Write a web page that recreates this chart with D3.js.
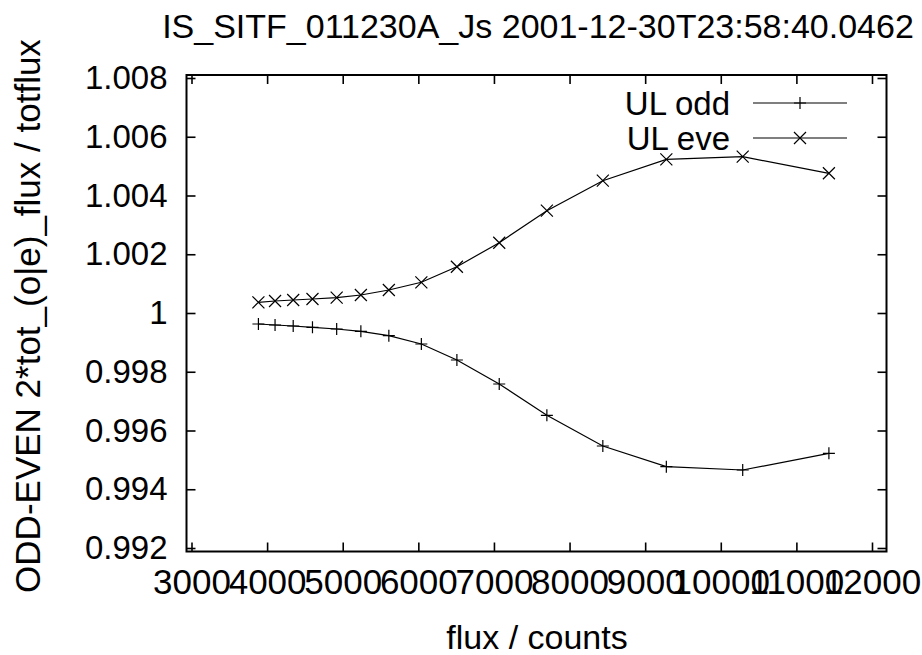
<!DOCTYPE html>
<html>
<head>
<meta charset="utf-8">
<script src="https://cdn.jsdelivr.net/npm/d3@7"></script>
<style>
  body { margin: 0; background: #fff; }
  svg text { font-family: "Liberation Sans", Arial, sans-serif; fill: #000; }
</style>
</head>
<body>
<svg id="chart" width="922" height="655"></svg>
<script>
const flux = [3885, 4105, 4345, 4600, 4920, 5240, 5610, 6040, 6510, 7070, 7700, 8440, 9280, 10290, 11430];
const oddVals = [0.999626, 0.999591, 0.999557, 0.999513, 0.999455, 0.999377, 0.999227, 0.998945, 0.998400, 0.997583, 0.996517, 0.995472, 0.994768, 0.994655, 0.995224];
const eveVals = [1.000364, 1.000408, 1.000442, 1.000476, 1.000521, 1.000613, 1.000783, 1.001045, 1.001576, 1.002393, 1.003483, 1.004504, 1.005232, 1.005321, 1.004756];
const seriesNames = ["UL odd", "UL eve"];
const xTicks = [3000, 4000, 5000, 6000, 7000, 8000, 9000, 10000, 11000, 12000];
const yTicks = [0.992, 0.994, 0.996, 0.998, 1, 1.002, 1.004, 1.006, 1.008];
const title = "IS_SITF_011230A_Js 2001-12-30T23:58:40.0462";
const xTitle = "flux / counts";
const yTitle = "ODD-EVEN 2*tot_(o|e)_flux / totflux";

const svg = d3.select("#chart");
const box = {left: 186.5, right: 886.5, top: 75, bottom: 551.5};

const x = d3.scaleLinear().domain([3000, 12000]).range([191.5, 872]);
const y = d3.scaleLinear().domain([0.992, 1.008]).range([548, 78]);

// axes, ticks pointing inward like gnuplot
svg.append("g").attr("transform", `translate(0,${box.bottom})`)
  .call(d3.axisBottom(x).tickValues(xTicks).tickSize(-9).tickPadding(18).tickFormat(d3.format("d")))
  .selectAll("text").style("font-size", "35px");
svg.append("g").attr("transform", `translate(${box.left},0)`)
  .call(d3.axisLeft(y).tickValues(yTicks).tickSize(-9).tickPadding(19).tickFormat(d3.format("~g")))
  .selectAll("text").style("font-size", "33px");
svg.append("g").attr("transform", `translate(0,${box.top})`)
  .call(d3.axisTop(x).tickValues(xTicks).tickSize(-9).tickFormat(""));
svg.append("g").attr("transform", `translate(${box.right},0)`)
  .call(d3.axisRight(y).tickValues(yTicks).tickSize(-9).tickFormat(""));

svg.selectAll(".domain").remove();
svg.selectAll(".tick line").attr("stroke", "#000").attr("stroke-width", 1.6);
svg.selectAll(".tick text").attr("fill", "#000");

svg.append("rect")
  .attr("x", box.left).attr("y", box.top)
  .attr("width", box.right - box.left).attr("height", box.bottom - box.top)
  .attr("fill", "none").attr("stroke", "#000").attr("stroke-width", 2);

// titles
svg.append("text").attr("x", 538).attr("y", 38).attr("text-anchor", "middle")
  .style("font-size", "34px").text(title);
svg.append("text").attr("x", 537).attr("y", 649).attr("text-anchor", "middle")
  .style("font-size", "34px").text(xTitle);
svg.append("text").attr("transform", "translate(40,316) rotate(-90)").attr("text-anchor", "middle")
  .style("font-size", "35px").text(yTitle);

// markers
const plus = s => `M${-s},0H${s}M0,${-s}V${s}`;
const cross = s => `M${-s},${-s}L${s},${s}M${-s},${s}L${s},${-s}`;
const shapes = [plus(6), cross(6)];

const line = d3.line().x(d => x(d[0])).y(d => y(d[1]));
[oddVals, eveVals].forEach((vals, i) => {
  const pts = flux.map((f, j) => [f, vals[j]]);
  svg.append("path").datum(pts).attr("d", line)
    .attr("fill", "none").attr("stroke", "#000").attr("stroke-width", 1.2);
  svg.append("g").selectAll("path").data(pts).join("path")
    .attr("transform", d => `translate(${x(d[0])},${y(d[1])})`)
    .attr("d", shapes[i]).attr("stroke", "#000").attr("stroke-width", 1.2).attr("fill", "none");
});

// legend
const leg = svg.append("g");
seriesNames.forEach((name, i) => {
  const ly = 103 + i * 35;
  leg.append("text").attr("x", 730).attr("y", ly).attr("dy", "0.35em")
    .attr("text-anchor", "end").style("font-size", "33px").text(name);
  leg.append("line").attr("x1", 753).attr("x2", 847).attr("y1", ly).attr("y2", ly)
    .attr("stroke", "#000").attr("stroke-width", 1.2);
  leg.append("path").attr("transform", `translate(800,${ly})`).attr("d", shapes[i])
    .attr("stroke", "#000").attr("stroke-width", 1.2).attr("fill", "none");
});
</script>
</body>
</html>
